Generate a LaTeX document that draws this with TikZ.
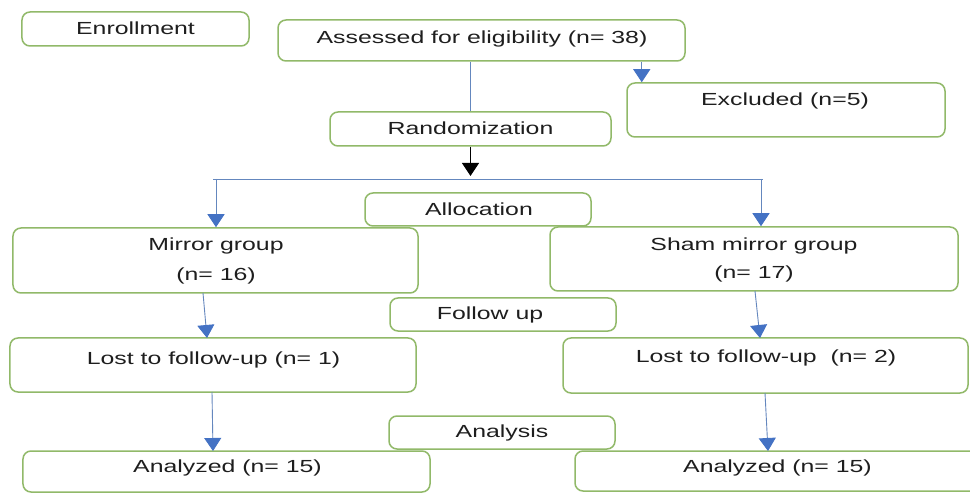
\documentclass[tikz,border=0pt]{standalone}
\usepackage{fontspec}
\setmainfont[FakeStretch=1.42]{Liberation Sans}
\usetikzlibrary{arrows.meta,calc}
\definecolor{boxgreen}{RGB}{145,185,105}
\definecolor{lineblue}{RGB}{100,135,190}
\definecolor{tipblue}{RGB}{68,114,196}
\definecolor{txtgray}{RGB}{30,30,30}
\tikzset{
  box/.style={draw=boxgreen, line width=1.5bp, rounded corners=8bp, fill=white, inner sep=0pt},
  txt/.style={text=txtgray, font=\fontsize{17.5bp}{19bp}\selectfont, inner sep=0pt, anchor=center},
  conn/.style={draw=lineblue, line width=0.9bp},
  arr/.style={conn, -{Triangle[width=17bp,length=13bp,color=tipblue]}},
  barr/.style={draw=black, line width=1.2bp, -{Triangle[width=17bp,length=13bp]}}
}
\begin{document}
\begin{tikzpicture}[x=1bp,y=-1bp]
\useasboundingbox[fill=white] (0,0) rectangle (970,493);
% boxes
\node[box, minimum width=227bp, minimum height=34bp] (enr) at (135.5,29) {};
\node[txt] (enrt) at (135.5,28.5) {Enrollment};
\node[box, minimum width=407bp, minimum height=41bp] (assess) at (481.5,40.5) {};
\node[txt] (assesst) at (482,38.5) {Assessed for eligibility (n= 38)};
\node[box, minimum width=318bp, minimum height=54bp] (excl) at (786,110) {};
\node[txt] (exclt) at (785,100.5) {Excluded (n=5)};
\node[box, minimum width=281bp, minimum height=34bp] (rand) at (470.5,129) {};
\node[txt] (randt) at (470.5,128.5) {Randomization};
\node[box, minimum width=226bp, minimum height=33bp] (alloc) at (478,209.5) {};
\node[txt] (alloct) at (479,209.5) {Allocation};
\node[box, minimum width=405bp, minimum height=65bp] (mirror) at (215.5,260.5) {};
\node[txt] (mirrort) at (216,245.5) {Mirror group};
\node[txt] (mirrorn) at (216,275.5) {(n= 16)};
\node[box, minimum width=408bp, minimum height=64bp] (sham) at (754,259) {};
\node[txt] (shamt) at (754,245.5) {Sham mirror group};
\node[txt] (shamn) at (754,273.5) {(n= 17)};
\node[box, minimum width=226bp, minimum height=33bp] (follow) at (503,314.5) {};
\node[txt] (followt) at (490,314.5) {Follow up};
\node[box, minimum width=406bp, minimum height=54bp] (lost1) at (213,365) {};
\node[txt] (lost1t) at (213.5,359.5) {Lost to follow-up (n= 1)};
\node[box, minimum width=405bp, minimum height=55bp] (lost2) at (765.5,365.5) {};
\node[txt] (lost2t) at (766,357.5) {Lost to follow-up\ \ (n= 2)};
\node[box, minimum width=226bp, minimum height=33bp] (anal) at (502,432.5) {};
\node[txt] (analt) at (502,432.5) {Analysis};
\node[box, minimum width=407bp, minimum height=41bp] (an1) at (226.5,471.5) {};
\node[txt] (an1t) at (227.5,467.5) {Analyzed (n= 15)};
\node[box, minimum width=405bp, minimum height=40bp] (an2) at (777.5,471) {};
\node[txt] (an2t) at (777.5,467.5) {Analyzed (n= 15)};
% connectors
\draw[conn] (rand.north |- assess.south) -- (rand.north);
\coordinate (e1) at ($(assess.south east)+(-44,0)$);
\draw[arr] (e1) -- (e1 |- excl.north);
\coordinate (split) at (470.5,176);
\draw[barr] (rand.south) -- (split);
\coordinate (hl) at (213,179);
\coordinate (hr) at (763,179);
\draw[conn] (hl) -- (hr);
\coordinate (dl) at (216,179);
\coordinate (dr) at (761,179);
\draw[arr] (dl) -- (dl |- mirror.north);
\draw[arr] (dr) -- (dr |- sham.north);
\coordinate (m1) at (203,293);
\coordinate (m2) at (207,338);
\draw[arr] (m1) -- (m2);
\coordinate (s1) at (755,291);
\coordinate (s2) at (760,338);
\draw[arr] (s1) -- (s2);
\coordinate (l1) at (212,392);
\coordinate (l2) at (213,451);
\draw[arr] (l1) -- (l2);
\coordinate (r1) at (765,393);
\coordinate (r2) at (768,451);
\draw[arr] (r1) -- (r2);
\end{tikzpicture}
\end{document}
